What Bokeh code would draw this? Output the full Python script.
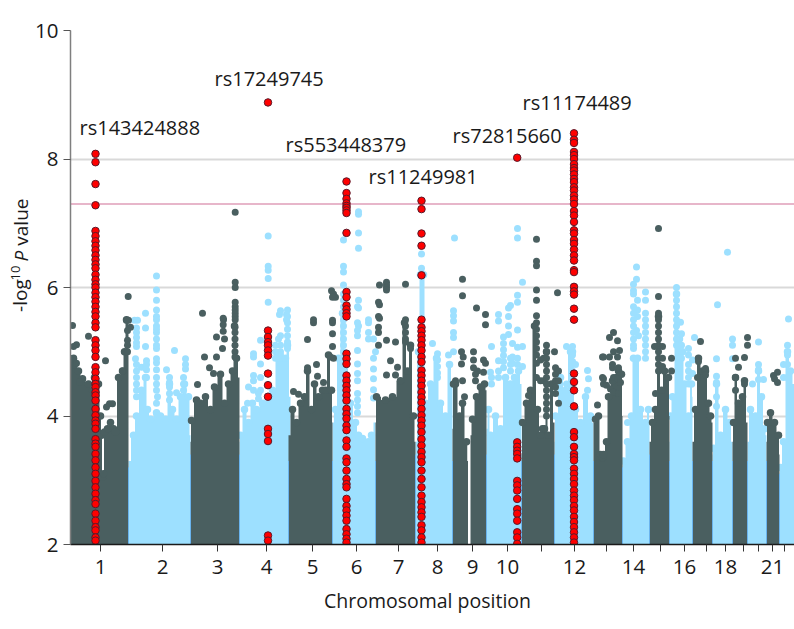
import math
from bokeh.embed import file_html
from bokeh.resources import INLINE
from bokeh.plotting import figure
from bokeh.layouts import row
from bokeh.models import FixedTicker, Label, Span
from bokeh.core.properties import value

FONT = "Open Sans"
DARK = "#4a5f60"
LIGHT = "#9de0ff"
RED = "#ff0000"

# x positions of chromosome ticks along the genome axis, and their labels
chrom_ticks = [100, 162, 217, 266, 312, 356, 398, 437, 472, 507, 541, 574, 606, 633, 660, 684, 706, 725, 743, 758, 772, 784]
chrom_labels = ["1", "2", "3", "4", "5", "6", "7", "8", "9", "10", "", "12", "", "14", "", "16", "", "18", "", "", "21", ""]
y_ticks = [2, 4, 6, 8, 10]
threshold = 7.3

# solid envelope of each chromosome (position, -log10 P)
chr1_x = [70, 73, 78, 82, 88, 92, 94, 98, 100, 101, 102, 103, 104, 107, 110, 113, 115, 118, 122, 124, 126, 128]
chr1_top = [4.95, 4.9, 4.7, 4.58, 4.5, 4.4, 4.6, 4.5, 4.0, 3.7, 3.05, 3.1, 3.75, 3.8, 3.9, 3.8, 3.75, 4.6, 4.7, 5.0, 5.5, 5.5]
chr2_x = [128, 133, 136, 141, 145, 147, 150, 156, 160, 165, 169, 172, 176, 180, 184, 188, 190]
chr2_top = [3.3, 3.7, 4.0, 4.4, 4.6, 4.1, 3.95, 4.05, 4.0, 3.95, 4.5, 4.1, 3.95, 4.3, 4.5, 4.3, 3.7]
chr3_x = [190, 191, 196, 200, 205, 210, 214, 220, 224, 228, 232, 234, 236, 239]
chr3_top = [3.6, 3.93, 4.25, 4.2, 4.3, 4.1, 4.45, 4.65, 4.2, 4.5, 4.7, 5.4, 4.9, 4.6]
chr4_x = [239, 240, 244, 248, 252, 256, 262, 268, 272, 278, 280, 285, 287, 290]
chr4_top = [3.6, 3.7, 4.1, 3.9, 4.2, 4.1, 4.2, 4.3, 4.4, 4.9, 4.9, 4.9, 5.1, 4.3]
chr5_x = [288, 292, 296, 300, 304, 307, 311, 314, 318, 322, 325, 328, 331, 332]
chr5_top = [3.7, 4.1, 3.9, 4.2, 4.3, 4.7, 4.1, 4.5, 4.3, 4.4, 4.4, 4.95, 4.4, 3.9]
chr6_x = [332, 335, 338, 342, 345, 350, 355, 358, 362, 368, 371, 375]
chr6_top = [3.9, 4.1, 4.9, 5.6, 4.8, 4.2, 3.9, 3.7, 3.65, 3.6, 3.7, 3.9]
chr7_x = [375, 376, 385, 392, 400, 404, 407, 410, 413, 415]
chr7_top = [3.9, 4.3, 4.25, 4.3, 4.55, 5.45, 4.7, 5.1, 4.0, 3.6]
chr8_x = [415, 418, 420, 423, 425, 430, 436, 440, 445, 449, 452]
chr8_top = [3.6, 5.0, 6.2, 6.2, 4.2, 4.5, 4.9, 4.2, 4.0, 4.8, 4.5]
chr9a_x = [452, 453, 455, 459, 462, 466, 467.5]
chr9a_top = [3.8, 4.5, 4.5, 4.0, 4.2, 3.6, 3.3]
chr9b_x = [470, 472, 476, 480, 484, 486]
chr9b_top = [3.7, 3.95, 4.3, 4.45, 4.5, 4.4]
chr10_x = [486, 488, 490, 495, 500, 505, 510, 514, 518, 521]
chr10_top = [3.8, 4.1, 3.7, 4.0, 3.8, 4.6, 4.5, 4.6, 4.7, 4.5]
chr11_x = [521, 522, 526, 530, 534, 537, 540, 542, 544, 546, 548, 551, 554]
chr11_top = [3.4, 3.9, 4.2, 4.4, 5.4, 4.1, 3.7, 3.8, 3.8, 5.0, 3.7, 4.5, 3.9]
chr12_x = [554, 555, 560, 565, 570, 572, 575, 580, 585, 590, 593]
chr12_top = [3.6, 4.0, 4.6, 4.4, 5.0, 5.0, 4.1, 3.9, 4.3, 4.0, 3.9]
chr13_x = [593, 595, 598, 600, 602, 603, 606, 608, 612, 616, 618, 621, 622]
chr13_top = [3.9, 3.95, 4.0, 3.4, 3.35, 3.4, 3.6, 4.3, 4.55, 4.6, 4.7, 4.65, 4.0]
chr14_x = [622, 623, 627, 631, 633, 637, 640, 645, 648, 649]
chr14_top = [3.3, 3.3, 3.6, 4.0, 4.9, 4.9, 4.1, 3.9, 4.1, 3.9]
chr15_x = [649, 652, 655, 658, 661, 664, 668, 669]
chr15_top = [3.6, 3.9, 4.1, 5.55, 4.4, 4.7, 4.6, 4.0]
chr16_x = [669, 670, 672, 676, 679, 682, 684, 688, 691, 692]
chr16_top = [3.6, 4.0, 4.3, 5.9, 5.2, 5.0, 4.5, 4.0, 4.5, 4.3]
chr17_x = [692, 695, 698, 702, 705, 708, 710, 712]
chr17_top = [3.6, 4.1, 4.9, 4.7, 4.7, 4.2, 4.0, 3.9]
chr18_x = [712, 713, 716, 720, 725, 729, 732]
chr18_top = [3.4, 3.5, 4.5, 3.7, 4.1, 3.9, 3.6]
chr19_x = [732, 733, 735, 738, 742, 744, 747]
chr19_top = [3.6, 3.9, 4.6, 4.2, 4.3, 4.55, 3.9]
chr20_x = [747, 750, 755, 758, 761, 764, 766]
chr20_top = [3.6, 4.1, 4.0, 4.7, 4.3, 3.8, 3.7]
chr21_x = [766, 767, 770, 774, 778, 779]
chr21_top = [3.6, 3.9, 4.05, 3.9, 3.7, 3.4]
chr22_x = [779, 780, 783, 787, 790, 794]
chr22_top = [3.1, 3.2, 3.6, 5.0, 4.7, 4.5]

# where dark and light chromosomes meet, and how high the darker seam runs
seam_x = [128, 190, 239, 288, 332, 375, 415, 452, 486, 521, 554, 593, 622, 649, 669, 692, 712, 732, 747, 766, 779]
seam_top = [3.2, 3.4, 3.4, 3.3, 3.3, 3.3, 3.4, 3.3, 3.4, 3.3, 3.4, 3.3, 3.2, 3.4, 3.3, 3.3, 3.3, 3.3, 3.3, 3.3, 3.1]

# single light-blue variants above the envelope (position, -log10 P)
light_points = [
    (156, 6.18), (156, 5.96), (156, 5.80), (156, 5.65), (156, 5.55), (156, 5.5), (156, 5.4), (156, 5.35), (156, 5.3),
    (156, 5.2), (156, 5.1), (156, 5.05), (145, 5.6), (145, 5.37), (145, 5.08), (174, 5.02), (146, 4.86), (156, 4.89),
    (156, 4.83), (156, 4.72), (166, 4.72), (185, 4.89), (185, 4.8), (185, 4.73), (136, 5.37), (136, 5.3), (136, 5.22),
    (136, 5.14), (136, 5.08), (135, 4.89), (141, 4.76), (146, 4.72), (146, 4.6), (169, 4.6), (169, 4.52), (169, 4.45),
    (183, 4.6), (156, 4.6), (156, 4.5), (156, 4.4), (157, 4.3), (176, 4.36), (134, 5.49), (137, 5.49),
    (136, 4.8), (136, 4.7), (136, 4.6), (136, 4.5), (136, 4.4), (136, 4.3), (145, 4.75), (156, 4.2), (169, 4.35), (169, 4.25),
    (183, 4.5), (183, 4.4), (146, 4.8),
    (267.7, 6.80), (267.7, 6.33), (267.7, 6.27), (267.7, 6.14), (267.7, 5.77), (279, 5.58), (286, 5.58), (286, 5.5),
    (358, 7.18), (358, 7.14), (358, 6.85), (358, 6.61), (343, 6.74), (343, 6.33), (343, 6.24), (343, 6.04), (343, 5.9),
    (343, 5.8), (343, 5.7), (343, 5.6), (343, 5.5), (358, 5.8), (358, 5.68), (368, 5.45), (358, 5.4),
    (280, 5.64), (287, 5.65), (287, 5.55), (287, 5.45), (287, 5.35), (287, 5.25), (287, 5.15), (287, 5.05),
    (280, 5.25), (278, 5.2), (280, 5.1), (275, 5.1), (260, 5.18), (253, 4.97), (253, 4.92), (260, 4.81), (253, 4.63),
    (253, 4.55), (260, 4.6), (248, 4.45), (258, 4.35), (258, 4.27), (247, 4.2), (357, 5.7), (357, 5.45), (357, 5.33),
    (357, 5.25), (357, 5.02), (357, 4.81), (357, 4.66), (357, 4.55), (357, 4.35), (357, 4.25), (357, 4.15), (357, 4.05),
    (368, 5.5), (368, 5.3), (368, 5.2), (373, 5.2), (375, 5.0), (373, 4.9), (373, 4.73), (373, 4.58), (373, 4.41), (373, 4.28),
    (343, 5.4), (343, 5.3), (343, 5.2), (343, 5.1), (343, 5.0), (340, 4.85), (280, 5.0), (280, 4.95), (275, 5.0), (275, 4.9),
    (260, 4.4), (253, 4.4),
    (421, 6.52), (421, 6.3), (454, 6.77), (517, 6.92), (517, 6.77), (522, 6.08), (517, 5.88), (517, 5.77), (510, 5.72),
    (508, 5.68), (498, 5.58), (498, 5.48), (508, 5.55), (508, 5.4), (517, 5.34), (453, 5.64), (453, 5.56), (453, 5.48),
    (453, 5.3), (453, 5.22), (432, 5.13), (491, 5.08), (503, 5.23), (503, 5.13), (503, 5.03), (503, 4.94), (508, 5.27),
    (512, 5.13), (522, 5.08), (517, 5.07), (498, 4.86), (512, 4.92), (512, 4.82), (522, 4.77), (490, 4.68), (453, 5.0),
    (448, 4.95), (437, 4.97), (437, 4.87), (437, 4.77), (437, 4.67), (437, 4.6), (566, 5.08), (572, 5.08), (572, 4.95),
    (572, 4.85), (572, 4.7), (572, 4.55), (575, 4.8), (587, 4.71), (588, 4.58), (587, 4.4), (566, 4.5),
    (503, 4.85), (503, 4.75), (510, 4.7), (510, 4.8), (510, 4.9), (517, 4.9), (517, 4.8), (498, 4.7), (498, 4.6), (491, 4.6), (491, 4.5),
    (727, 6.55), (636, 6.32), (636, 6.13), (633, 6.05), (633, 5.95), (633, 5.9), (637, 5.8), (637, 5.65), (637, 5.55),
    (645, 5.93), (645, 5.8), (645, 5.6), (645, 5.5), (645, 5.4), (645, 5.3), (645, 5.2), (645, 5.1), (645, 5.0), (645, 4.9),
    (636, 5.33), (638, 5.25), (633, 5.05), (676, 6.0), (676, 5.9), (676, 5.8), (676, 5.7), (676, 5.6), (676, 5.5),
    (676, 5.4), (676, 5.3), (676, 5.2), (680, 5.46), (681, 5.28), (717, 5.73), (788, 5.51), (694, 5.22), (688, 5.05),
    (688, 4.95), (688, 4.8), (692, 4.87), (692, 4.66), (716, 4.89), (732, 5.2), (732, 5.1), (732, 4.89), (758, 5.15),
    (758, 4.8), (758, 4.72), (758, 4.57), (763, 4.57), (752, 4.5), (787, 5.1), (787, 4.95), (787, 4.8), (787, 4.6),
    (783, 4.8), (783, 4.6), (716, 4.62), (716, 4.52), (716, 4.3), (716, 4.15), (627, 3.9),
    (633, 5.7), (633, 5.6), (633, 5.5), (633, 5.4), (633, 5.3), (633, 5.2), (633, 5.1), (676, 5.1), (681, 5.1), (681, 5.0),
    (681, 4.9), (688, 4.7), (688, 4.6), (688, 4.5),
]

# single dark variants above the envelope (position, -log10 P)
dark_points = [
    (234.7, 7.17), (234.7, 6.08), (234.7, 6.0), (234.7, 5.77), (234.7, 5.7), (234.7, 5.65), (234.7, 5.6), (234.7, 5.55), (234.7, 5.5),
    (234.5, 5.38), (234.5, 5.3), (234.5, 5.2), (234.5, 5.1), (234.5, 5.0), (234.5, 4.92),
    (127.7, 5.86), (130, 5.38), (202, 5.6), (223, 5.5), (331, 5.95), (333, 5.9), (335, 5.85), (332, 5.85),
    (379, 6.04), (379, 5.73), (379, 5.52), (386, 6.08), (386, 6.04), (386, 6.0), (386, 5.96), (313, 5.45), (332, 5.45),
    (222.7, 5.52), (222.7, 5.42), (222.7, 5.32), (216, 5.23), (224, 5.2), (222, 5.05), (204, 4.92), (216, 4.92),
    (105, 4.86), (88, 5.24), (72, 5.41), (73, 5.08), (76, 5.11), (209, 4.75), (213, 4.66), (197, 4.49),
    (128, 5.49), (126, 5.49), (127, 5.33), (127, 5.18), (127, 5.1), (127, 5.0), (122, 4.7), (109, 4.19), (106, 4.14),
    (112, 4.19), (79, 4.53), (74, 4.79), (76, 4.82),
    (378, 5.1), (386, 5.18), (395, 5.15), (405, 5.5), (405, 5.4), (405, 5.3), (405, 5.2), (405, 5.15), (410, 5.05),
    (378, 5.55), (378, 5.38), (378, 5.3), (390, 4.86), (397, 4.76), (386, 4.64), (395, 4.64), (405, 6.05), (378, 5.77),
    (313, 5.5), (307, 5.19), (332, 5.49), (332, 5.28), (332, 5.08), (316, 4.8), (307, 4.75), (317, 4.62), (323, 4.52),
    (293, 4.38), (298, 4.34), (330, 4.92), (333, 4.9),
    (536, 6.75), (536, 6.41), (536, 6.34), (536, 5.96), (536, 5.8), (536, 5.56), (557, 5.92), (462, 6.13), (462, 5.87),
    (476, 5.68), (485, 5.58), (485, 5.42), (461, 5.0), (462.7, 4.92), (461, 4.81), (473, 5.0), (473, 4.87), (483, 4.87),
    (485, 4.82), (477, 4.7), (483, 4.68), (473, 4.75), (475, 4.65), (475, 4.55), (462, 4.55), (455, 4.55), (464, 4.3),
    (554, 5.0), (546, 5.1), (602, 4.92), (602, 4.6), (603, 4.5), (597, 4.17), (528, 4.32), (536, 5.45), (536, 5.35),
    (536, 5.25), (536, 5.15), (536, 5.05), (536, 4.95), (540, 4.87), (543, 4.9), (536, 4.82), (536, 4.6), (540, 4.55),
    (543, 4.55), (546, 5.0), (546, 4.9), (546, 4.8), (546, 4.7), (546, 4.6), (546, 4.5), (546, 4.4), (546, 4.3),
    (546, 4.2), (546, 4.1), (546, 4.0), (555, 4.75), (555, 4.65), (555, 4.55), (555, 4.45), (555, 4.35), (558, 4.7),
    (558, 4.55), (558, 4.2),
    (658, 6.92), (658, 5.86), (658, 5.6), (658, 5.5), (658, 5.4), (658, 5.3), (658, 5.2), (658, 5.1), (658, 5.0), (658, 4.9),
    (658, 4.8), (658, 4.7), (654, 5.08), (662, 5.08), (662, 4.9), (662, 4.77), (655, 4.35), (671, 4.9), (671, 4.7),
    (700, 5.16), (698, 4.85), (705, 4.74), (697, 4.6), (705, 4.64), (747, 5.22), (747, 5.1), (735, 4.9), (744, 4.91),
    (738, 4.76), (735, 4.6), (735, 4.4), (744, 4.5), (777, 4.68), (773, 4.63), (774, 4.58), (777, 4.52),
    (613, 5.3), (609, 5.22), (617, 5.17), (603, 4.92), (613, 5.0), (619, 5.02), (609, 4.92), (617, 4.92), (612, 4.8),
    (612, 4.75), (618, 4.75), (603, 4.58), (613, 4.6), (617, 4.58), (620, 4.52), (606, 4.48), (610, 4.42), (613, 4.37), (618, 4.35),
]

# highlighted red loci
red1_x = 95
red1_y = [8.08, 7.95, 7.61, 7.28, 6.88, 6.8, 6.72, 6.65, 6.58, 6.5, 6.43, 6.36, 6.3, 6.2, 6.12, 6.05, 6.0, 5.92, 5.85, 5.78,
          5.7, 5.62, 5.55, 5.45, 5.38, 5.18, 5.10, 5.02, 4.92, 4.76, 4.68, 4.58, 4.50, 4.45, 4.37, 4.32, 4.24, 4.11, 4.01,
          3.93, 3.88, 3.80, 3.64, 3.57, 3.52, 3.41, 3.31, 3.20, 3.10, 2.99, 2.89, 2.79, 2.69, 2.63, 2.48, 2.37, 2.27, 2.22, 2.11, 2.06]
red4_x = 267.5
red4_y = [8.88, 5.33, 5.23, 5.15, 5.10, 5.02, 4.94, 4.66, 4.48, 4.30, 3.80, 3.72, 3.61, 2.14, 2.06]
red6_x = 346
red6_y = [7.65, 7.47, 7.38, 7.31, 7.27, 7.24, 7.20, 7.16, 6.85, 5.93, 5.85, 5.72, 5.66, 5.6, 5.55, 4.97, 4.89, 4.81, 4.63,
          4.55, 4.47, 4.40, 4.32, 4.24, 4.11, 4.03, 3.96, 3.85, 3.78, 3.62, 3.52, 3.34, 3.28, 3.15, 3.02, 2.94, 2.89, 2.71,
          2.60, 2.53, 2.45, 2.37, 2.24, 2.16, 2.09, 2.03]
red8_x = 421
red8_y = [7.35, 7.22, 6.84, 6.65, 6.19, 5.5, 5.38, 5.32, 5.25, 5.18, 5.10, 5.02, 4.92, 4.84, 4.71, 4.63, 4.55, 4.47, 4.37,
          4.29, 4.21, 4.11, 4.01, 3.93, 3.85, 3.75, 3.64, 3.54, 3.44, 3.36, 3.28, 3.15, 3.02, 2.89, 2.76, 2.66, 2.58, 2.50,
          2.43, 2.30, 2.22, 2.11, 2.03]
red10_x = 516.7
red10_y = [8.02, 3.59, 3.52, 3.46, 3.41, 3.34, 2.99, 2.92, 2.84, 2.71, 2.55, 2.48, 2.37, 2.19, 2.11, 2.01]
red12_x = 573.5
red12_y = [8.40, 8.30, 8.25, 8.11, 8.06, 8.00, 7.92, 7.86, 7.82, 7.76, 7.69, 7.64, 7.56, 7.51, 7.43, 7.37, 7.30, 7.19, 7.12,
           7.02, 6.89, 6.84, 6.74, 6.68, 6.59, 6.50, 6.42, 6.27, 6.24, 6.01, 5.94, 5.89, 5.67, 5.50, 4.66, 4.53, 4.40, 4.15,
           3.75, 3.67, 3.52, 3.41, 3.36, 3.31, 3.18, 3.10, 3.02, 2.94, 2.84, 2.76, 2.69, 2.60, 2.53, 2.43, 2.35, 2.27, 2.19, 2.11, 2.03]

# SNP annotations
snp_names = ["rs143424888", "rs17249745", "rs553448379", "rs11249981", "rs72815660", "rs11174489"]
snp_x = [79, 214, 285, 368, 452, 522]
snp_y = [8.49, 9.26, 8.22, 7.72, 8.36, 8.875]

TITLE_W = 70
OVERLAP = 40

p = figure(width=794 - TITLE_W + OVERLAP, height=621, output_backend="svg", toolbar_location=None,
           x_range=(70, 794), y_range=(2, 10), min_border_left=OVERLAP, min_border_right=0,
           min_border_top=30, min_border_bottom=77, outline_line_color=None, background_fill_color="white",
           border_fill_color=None, margin=(0, 0, 0, -OVERLAP))
p.xgrid.visible = False
p.ygrid.ticker = FixedTicker(ticks=[4, 6, 8, 10])
p.ygrid.grid_line_color = "#d9d9d9"
p.ygrid.grid_line_width = 2

xa = p.xaxis[0]
xa.ticker = FixedTicker(ticks=chrom_ticks)
xa.major_label_overrides = dict(zip(chrom_ticks, chrom_labels))
xa.major_tick_in = 0
xa.major_tick_out = 7
xa.minor_tick_line_color = None
xa.axis_line_color = "#1a1a1a"
xa.axis_line_width = 1.5
xa.major_tick_line_color = "#333333"
xa.major_tick_line_width = 1
xa.major_label_text_font = FONT
xa.major_label_text_font_size = "20.5px"
xa.major_label_text_color = "#1a1a1a"
xa.major_label_standoff = 8

ya = p.yaxis[0]
ya.ticker = FixedTicker(ticks=y_ticks)
ya.major_tick_in = 0
ya.major_tick_out = 7
ya.minor_tick_line_color = None
ya.axis_line_color = "#7f7f7f"
ya.axis_line_width = 1.5
ya.major_tick_line_color = "#555555"
ya.major_label_text_font = FONT
ya.major_label_text_font_size = "20.5px"
ya.major_label_text_color = "#1a1a1a"
ya.major_label_standoff = 5

p.add_layout(Span(location=threshold, dimension="width", line_color="#cf6f96", line_width=1.2, level="underlay"))

light_polys = [(chr2_x, chr2_top), (chr4_x, chr4_top), (chr6_x, chr6_top), (chr8_x, chr8_top), (chr10_x, chr10_top),
               (chr12_x, chr12_top), (chr14_x, chr14_top), (chr16_x, chr16_top), (chr18_x, chr18_top),
               (chr20_x, chr20_top), (chr22_x, chr22_top)]
dark_polys = [(chr1_x, chr1_top), (chr3_x, chr3_top), (chr5_x, chr5_top), (chr7_x, chr7_top), (chr9a_x, chr9a_top),
              (chr9b_x, chr9b_top), (chr11_x, chr11_top), (chr13_x, chr13_top), (chr15_x, chr15_top),
              (chr17_x, chr17_top), (chr19_x, chr19_top), (chr21_x, chr21_top)]


def draw(polys, points, color):
    for xs, tops in polys:
        p.varea_step(x=xs, y1=[2] * len(xs), y2=tops, step_mode="center", fill_color=color, fill_alpha=1)
        p.scatter(x=xs[1:-1], y=tops[1:-1], size=7.5, color=color, line_color=None)
    px, py = zip(*points)
    p.scatter(x=list(px), y=list(py), size=7, color=color, line_color=None)


draw(light_polys, light_points, LIGHT)
draw(dark_polys, dark_points, DARK)
p.segment(x0=seam_x, y0=[2] * len(seam_x), x1=seam_x, y1=seam_top, line_color="#6ab4ee", line_width=1)

for rx, ry in [(red1_x, red1_y), (red4_x, red4_y), (red6_x, red6_y), (red8_x, red8_y), (red10_x, red10_y), (red12_x, red12_y)]:
    p.scatter(x=[rx] * len(ry), y=ry, size=7.5, fill_color=RED, line_color="#5a1a2a", line_width=1)

p.text(x=snp_x, y=snp_y, text=snp_names, text_font=value(FONT), text_font_size="20px",
       text_color="#1a1a1a", text_align="left", text_baseline="alphabetic")

# annotations in a side panel are not clipped to the frame; canvas y runs down from the top
p.add_layout(Label(x=427 - (TITLE_W - OVERLAP), y=600, x_units="canvas", y_units="canvas", text="Chromosomal position", text_font=FONT,
                   text_font_size="19.5px", text_color="#1a1a1a", text_align="center", text_baseline="alphabetic"), "below")

# strip left of the chart holding the y-axis title, with x and y ranges in page pixels;
# the chart's transparent border overlaps its right part
t = figure(width=TITLE_W, height=621, output_backend="svg", toolbar_location=None,
           x_range=(0, TITLE_W), y_range=(621, 0), min_border_left=0, min_border_right=0,
           min_border_top=0, min_border_bottom=0, outline_line_color=None)
t.axis.visible = False
t.grid.visible = False
for x0, y0, txt, size, style in [(19, 340, "-log", "19px", "normal"),
                                 (15, 302, "10", "13px", "normal"),
                                 (20, 279, "P", "19px", "italic"),
                                 (20, 260, "value", "19px", "normal")]:
    t.text(x=[x0], y=[y0], text=[txt], angle=math.pi / 2, text_font=value(FONT), text_font_size=size,
           text_font_style=style, text_color="#1a1a1a", text_align="left", text_baseline="alphabetic")

open("out.html", "w").write(file_html(row(t, p, spacing=0), INLINE))
